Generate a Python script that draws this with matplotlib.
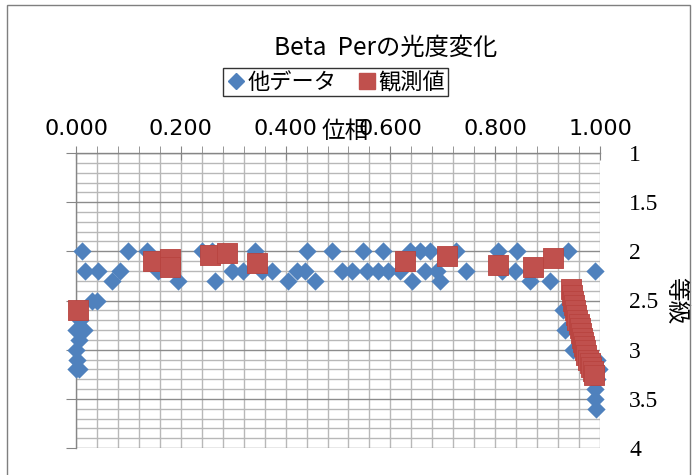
import matplotlib.pyplot as plt
from matplotlib.ticker import MultipleLocator, FormatStrFormatter
from matplotlib.patches import Rectangle
from matplotlib.lines import Line2D

# 他データ (blue diamonds)
other_phase = [0.011, 0.017, 0.042, 0.031, 0.040, 0.069, 0.084, 0.099, 0.135, 0.156,
               0.195, 0.240, 0.260, 0.265, 0.298, 0.319, 0.342, 0.355, 0.374, 0.405,
               0.422, 0.437, 0.441, 0.456, 0.489, 0.508, 0.527, 0.548, 0.555, 0.576,
               0.586, 0.595, 0.618, 0.637, 0.641, 0.656, 0.666, 0.676, 0.689, 0.695,
               0.726, 0.745, 0.805, 0.813, 0.838, 0.842, 0.866, 0.905, 0.939, 0.990,
               0.008, 0.015, 0.000, 0.005, 0.000, 0.002, 0.005, 0.000,
               0.929, 0.933, 0.948, 0.995, 0.998, 0.995, 0.990, 0.990, 0.992]
other_mag = [2.0, 2.2, 2.2, 2.5, 2.5, 2.3, 2.2, 2.0, 2.0, 2.2,
             2.3, 2.0, 2.0, 2.3, 2.2, 2.2, 2.0, 2.2, 2.2, 2.3,
             2.2, 2.2, 2.0, 2.3, 2.0, 2.2, 2.2, 2.0, 2.2, 2.2,
             2.0, 2.2, 2.2, 2.0, 2.3, 2.0, 2.2, 2.0, 2.2, 2.3,
             2.0, 2.2, 2.0, 2.2, 2.2, 2.0, 2.3, 2.3, 2.0, 2.2,
             2.7, 2.8, 2.8, 2.9, 3.0, 3.1, 3.2, 3.2,
             2.6, 2.8, 3.0, 3.1, 3.2, 3.3, 3.4, 3.5, 3.6]

# 観測値 (red squares)
obs_phase = [0.004, 0.147, 0.179, 0.179, 0.256, 0.288, 0.345, 0.628, 0.708, 0.805,
             0.872, 0.911,
             0.945, 0.947, 0.949, 0.951, 0.953, 0.955, 0.957, 0.959, 0.961, 0.963,
             0.965, 0.967, 0.969, 0.971, 0.974, 0.977, 0.980, 0.983, 0.986, 0.989]
obs_mag = [2.6, 2.10, 2.08, 2.16, 2.04, 2.02, 2.12, 2.10, 2.05, 2.14,
           2.16, 2.07,
           2.38, 2.44, 2.50, 2.55, 2.60, 2.65, 2.70, 2.74, 2.78, 2.83,
           2.88, 2.92, 2.96, 3.00, 3.05, 3.10, 3.14, 3.18, 3.22, 3.26]

blue = '#4F81BD'
red = '#C0504D'
axis_gray = '#868686'
jp = ['Noto Sans CJK JP', 'DejaVu Sans']

fig = plt.figure(figsize=(6.94, 4.75), dpi=100)
ax = fig.add_axes([76/694, 27/475, 524/694, 295/475])

ax.scatter(other_phase, other_mag, marker='D', s=9.3**2, color=blue, linewidths=0,
           zorder=3, clip_on=False)
ax.scatter(obs_phase, obs_mag, marker='s', s=14**2, color=red, edgecolors='#b8433f',
           linewidths=0.6, zorder=4, clip_on=False)

ax.set_xlim(0, 1)
ax.set_ylim(4, 1)

ax.xaxis.set_major_locator(MultipleLocator(0.2))
ax.xaxis.set_minor_locator(MultipleLocator(0.04))
ax.xaxis.set_major_formatter(FormatStrFormatter('%.3f'))
ax.yaxis.set_major_locator(MultipleLocator(0.5))
ax.yaxis.set_minor_locator(MultipleLocator(0.1))
ax.yaxis.set_major_formatter(plt.FuncFormatter(lambda v, p: '%g' % v))

ax.grid(which='minor', color='#b8b8b8', lw=1)
ax.grid(which='major', axis='x', color='#b8b8b8', lw=1)
ax.grid(which='major', axis='y', color='#8c8c8c', lw=1)
ax.set_axisbelow(True)

for s in ['right', 'bottom']:
    ax.spines[s].set_visible(False)
for s in ['left', 'top']:
    ax.spines[s].set_color(axis_gray)
    ax.spines[s].set_linewidth(1)

ax.tick_params(axis='x', which='both', top=True, bottom=False, labeltop=True, labelbottom=False,
               color=axis_gray)
ax.tick_params(axis='x', which='major', direction='inout', length=10, pad=5)
ax.tick_params(axis='x', which='minor', direction='out', length=5)
for lab in ax.get_xticklabels():
    lab.set_family(['Liberation Sans Narrow', 'DejaVu Sans'])
    lab.set_fontsize(16)

ax.tick_params(axis='y', which='major', left=True, right=False, labelleft=False, labelright=True,
               direction='out', length=7, color=axis_gray, pad=14)
ax.tick_params(axis='y', which='minor', left=False, right=False)
for lab in ax.get_yticklabels():
    lab.set_family(['Liberation Serif', 'DejaVu Serif'])
    lab.set_fontsize(17)
    lab.set_horizontalalignment('left')

ax.set_xlabel('位相', family=jp, fontsize=17)
ax.xaxis.set_label_position('top')
ax.xaxis.set_label_coords(0.513, 1.075)
ax.xaxis.label.set_verticalalignment('center')

ax.set_ylabel('等級', family=jp, fontsize=17, rotation=270)
ax.yaxis.set_label_position('right')
ax.yaxis.set_label_coords(1.145, 0.50)
ax.yaxis.label.set_verticalalignment('center')

fig.text(0.555, 0.899, 'Beta  Perの光度変化', family=jp, fontsize=17.5, ha='center', va='center')

handles = [Line2D([], [], marker='D', ls='none', color=blue, ms=8),
           Line2D([], [], marker='s', ls='none', color=red, ms=11)]
leg = fig.legend(handles, ['他データ', '観測値'], loc='center', bbox_to_anchor=(0.483, 0.827),
                 ncol=2, prop={'family': jp, 'size': 16}, frameon=True, fancybox=False,
                 handletextpad=0.0, handlelength=1.0, columnspacing=0.9, borderpad=0.1,
                 borderaxespad=0)
leg.get_frame().set_edgecolor('black')
leg.get_frame().set_linewidth(1)

fig.patches.append(Rectangle((7/694, -0.01), 683/694, 1.0, transform=fig.transFigure,
                             fill=False, edgecolor='#7f7f7f', lw=1))

fig.savefig('out.png', dpi=100)
